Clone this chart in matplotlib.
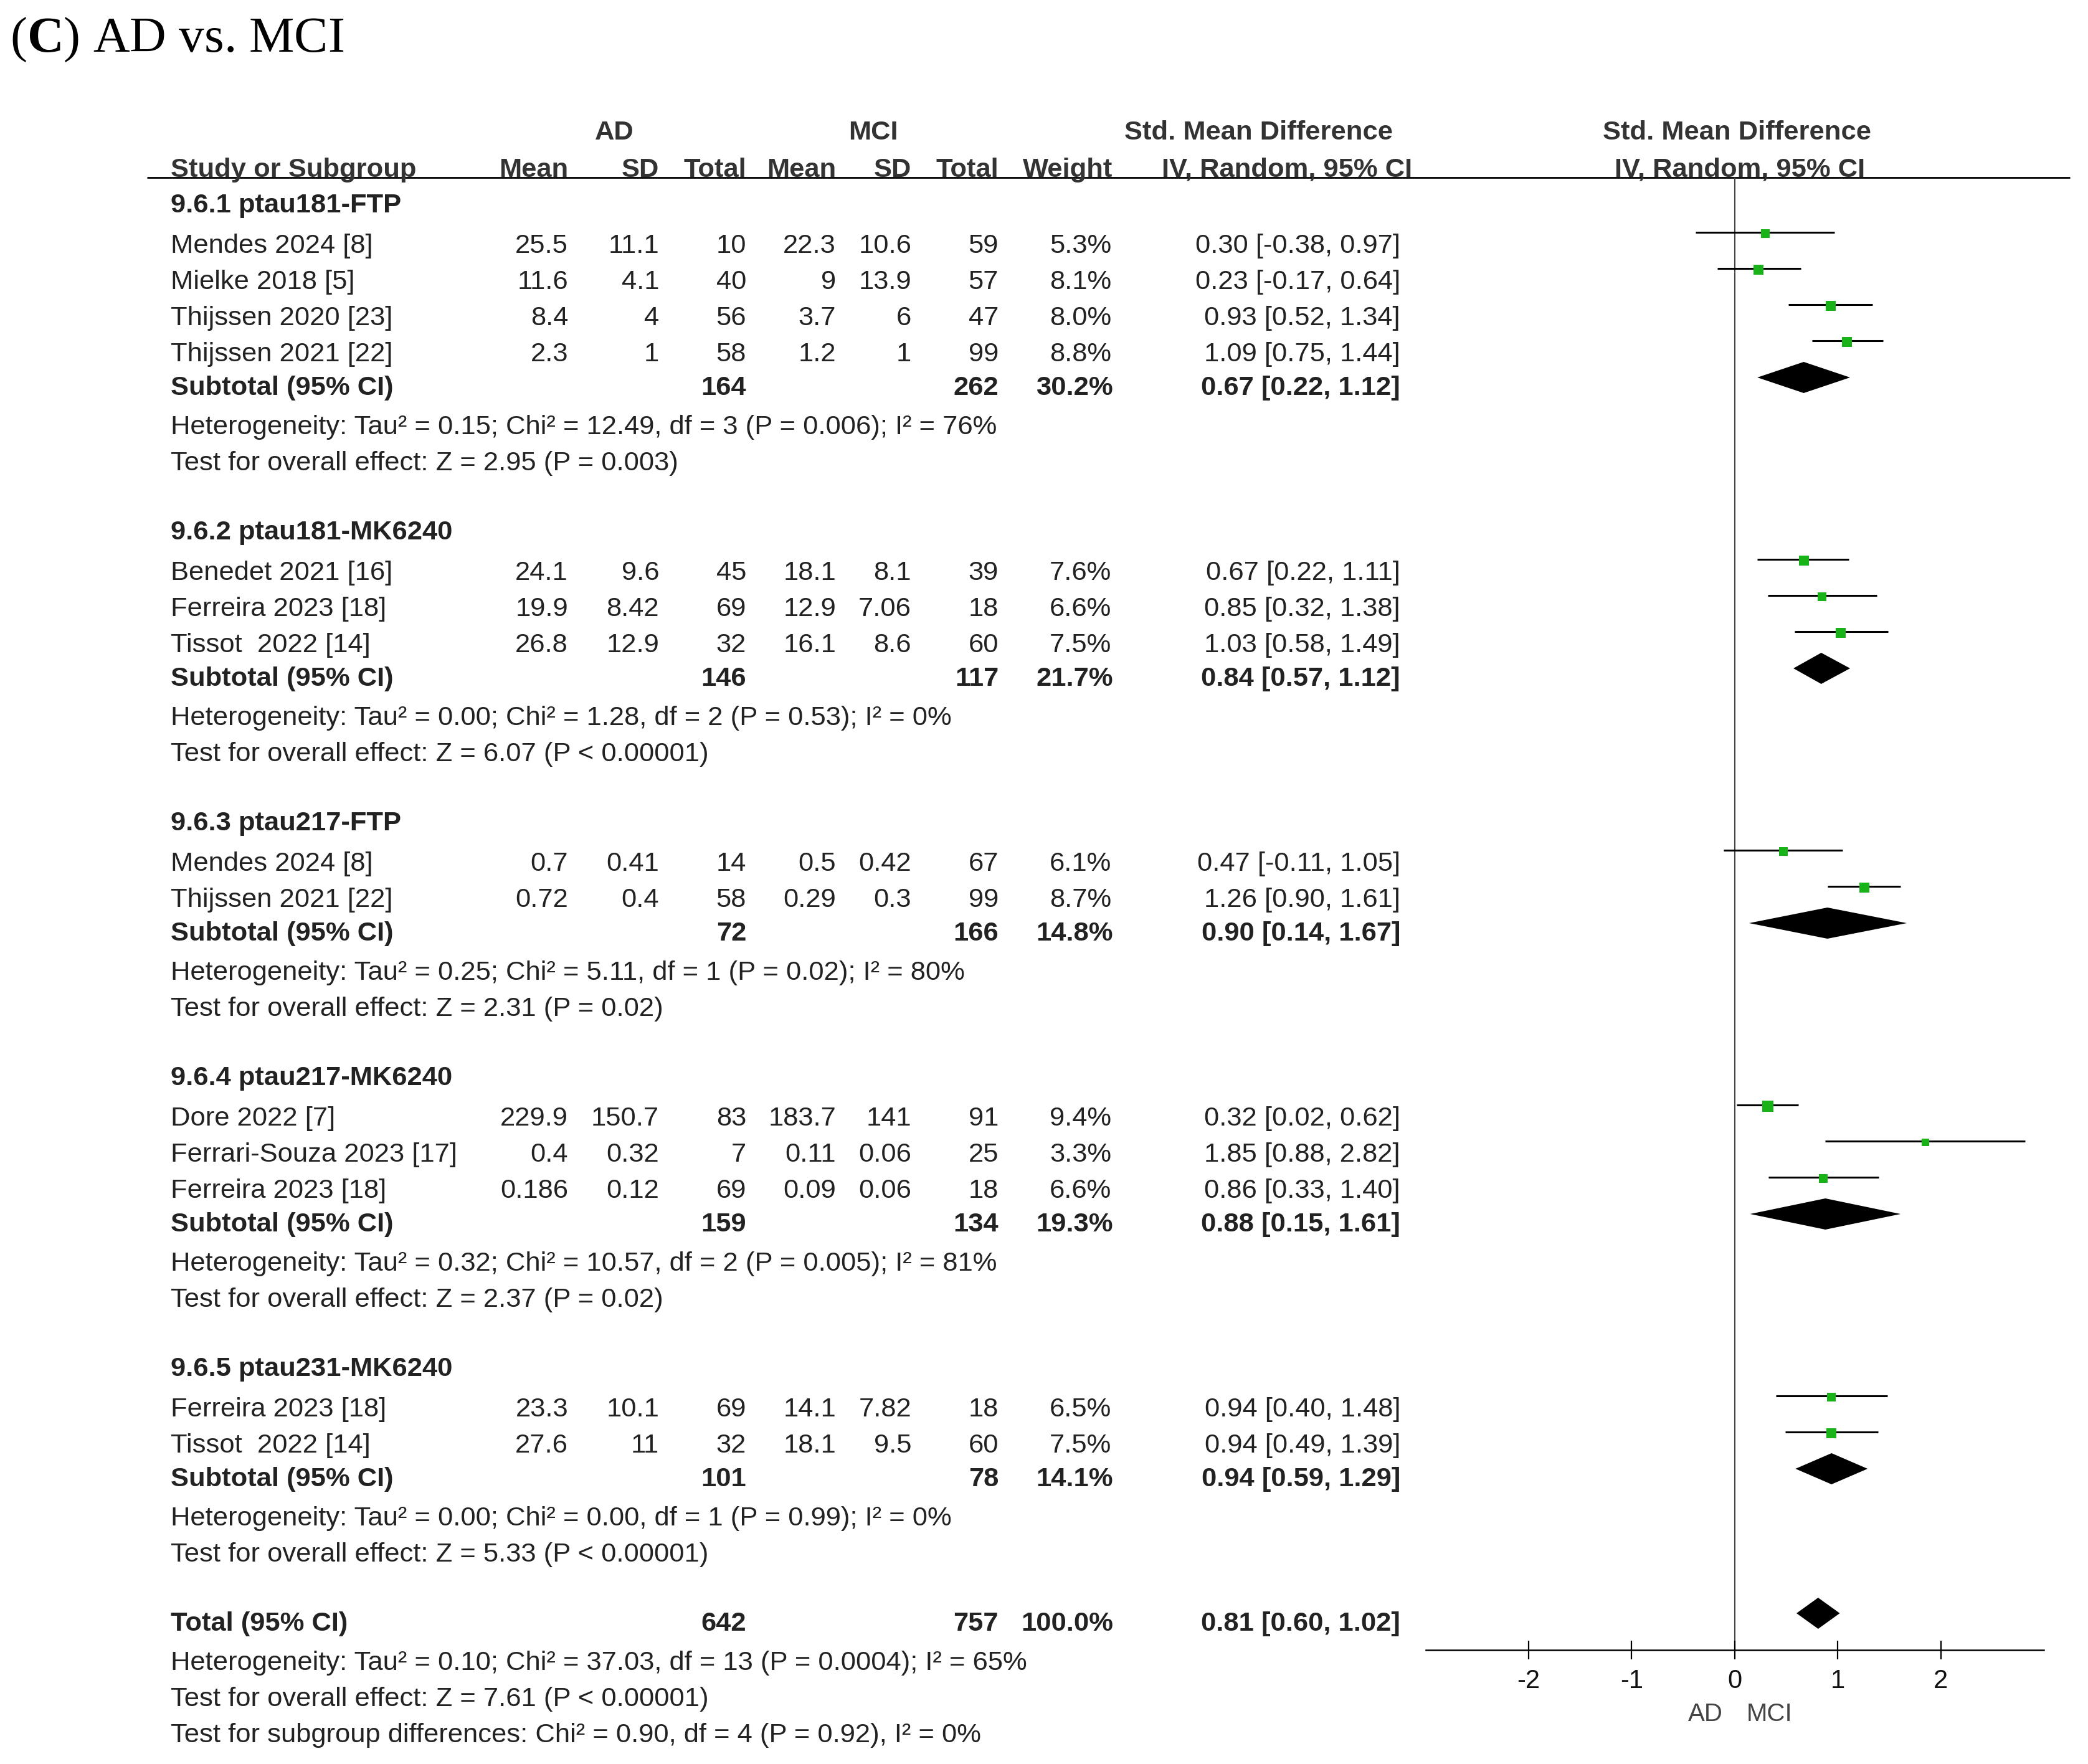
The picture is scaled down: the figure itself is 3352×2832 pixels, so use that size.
import numpy as np
import matplotlib
matplotlib.use("Agg")
import matplotlib.pyplot as plt

plt.rcParams['font.family'] = ['Liberation Sans', 'DejaVu Sans']
plt.rcParams['axes.unicode_minus'] = False
plt.rcParams['mathtext.fontset'] = 'custom'
plt.rcParams['mathtext.rm'] = 'Liberation Serif'
plt.rcParams['mathtext.bf'] = 'Liberation Serif:bold'

# ---- data ----
group_names = ["9.6.1 ptau181-FTP", "9.6.2 ptau181-MK6240", "9.6.3 ptau217-FTP",
               "9.6.4 ptau217-MK6240", "9.6.5 ptau231-MK6240"]
study = ["Mendes 2024 [8]", "Mielke 2018 [5]", "Thijssen 2020 [23]", "Thijssen 2021 [22]",
         "Benedet 2021 [16]", "Ferreira 2023 [18]", "Tissot  2022 [14]",
         "Mendes 2024 [8]", "Thijssen 2021 [22]",
         "Dore 2022 [7]", "Ferrari-Souza 2023 [17]", "Ferreira 2023 [18]",
         "Ferreira 2023 [18]", "Tissot  2022 [14]"]
group_of = [0, 0, 0, 0, 1, 1, 1, 2, 2, 3, 3, 3, 4, 4]
ad_mean = [25.5, 11.6, 8.4, 2.3, 24.1, 19.9, 26.8, 0.7, 0.72, 229.9, 0.4, 0.186, 23.3, 27.6]
ad_sd = [11.1, 4.1, 4, 1, 9.6, 8.42, 12.9, 0.41, 0.4, 150.7, 0.32, 0.12, 10.1, 11]
ad_n = [10, 40, 56, 58, 45, 69, 32, 14, 58, 83, 7, 69, 69, 32]
mci_mean = [22.3, 9, 3.7, 1.2, 18.1, 12.9, 16.1, 0.5, 0.29, 183.7, 0.11, 0.09, 14.1, 18.1]
mci_sd = [10.6, 13.9, 6, 1, 8.1, 7.06, 8.6, 0.42, 0.3, 141, 0.06, 0.06, 7.82, 9.5]
mci_n = [59, 57, 47, 99, 39, 18, 60, 67, 99, 91, 25, 18, 18, 60]
weight = [5.3, 8.1, 8.0, 8.8, 7.6, 6.6, 7.5, 6.1, 8.7, 9.4, 3.3, 6.6, 6.5, 7.5]
smd = [0.30, 0.23, 0.93, 1.09, 0.67, 0.85, 1.03, 0.47, 1.26, 0.32, 1.85, 0.86, 0.94, 0.94]
ci_lo = [-0.38, -0.17, 0.52, 0.75, 0.22, 0.32, 0.58, -0.11, 0.90, 0.02, 0.88, 0.33, 0.40, 0.49]
ci_hi = [0.97, 0.64, 1.34, 1.44, 1.11, 1.38, 1.49, 1.05, 1.61, 0.62, 2.82, 1.40, 1.48, 1.39]

sub_ad_n = [164, 146, 72, 159, 101]
sub_mci_n = [262, 117, 166, 134, 78]
sub_weight = [30.2, 21.7, 14.8, 19.3, 14.1]
sub_smd = [0.67, 0.84, 0.90, 0.88, 0.94]
sub_lo = [0.22, 0.57, 0.14, 0.15, 0.59]
sub_hi = [1.12, 1.12, 1.67, 1.61, 1.29]
sub_het = ["Heterogeneity: Tau² = 0.15; Chi² = 12.49, df = 3 (P = 0.006); I² = 76%",
           "Heterogeneity: Tau² = 0.00; Chi² = 1.28, df = 2 (P = 0.53); I² = 0%",
           "Heterogeneity: Tau² = 0.25; Chi² = 5.11, df = 1 (P = 0.02); I² = 80%",
           "Heterogeneity: Tau² = 0.32; Chi² = 10.57, df = 2 (P = 0.005); I² = 81%",
           "Heterogeneity: Tau² = 0.00; Chi² = 0.00, df = 1 (P = 0.99); I² = 0%"]
sub_test = ["Test for overall effect: Z = 2.95 (P = 0.003)",
            "Test for overall effect: Z = 6.07 (P < 0.00001)",
            "Test for overall effect: Z = 2.31 (P = 0.02)",
            "Test for overall effect: Z = 2.37 (P = 0.02)",
            "Test for overall effect: Z = 5.33 (P < 0.00001)"]

total_ad_n, total_mci_n, total_weight = 642, 757, 100.0
total_smd, total_lo, total_hi = 0.81, 0.60, 1.02
total_notes = ["Heterogeneity: Tau² = 0.10; Chi² = 37.03, df = 13 (P = 0.0004); I² = 65%",
               "Test for overall effect: Z = 7.61 (P < 0.00001)",
               "Test for subgroup differences: Chi² = 0.90, df = 4 (P = 0.92), I² = 0%"]
xticks = [-2, -1, 0, 1, 2]

# ---- layout (figure pixels, origin top-left) ----
W, H = 3352, 2832
FS = 31.3
TXT = '#222222'
HDR = '#333333'
GREEN = '#19b219'
x_name = 274
col_right = [912, 1058, 1198, 1342, 1463, 1603, 1784, 2248]
fx0, fx1, fy0, fy1 = 2288.6, 3281, 285, 2649
cap = 0.358 * FS * 100 / 72   # half cap height in px, for baseline placement

fig = plt.figure(figsize=(W / 100, H / 100), dpi=100)
bg = fig.add_axes([0, 0, 1, 1])
bg.set_xlim(0, W)
bg.set_ylim(H, 0)
bg.axis('off')

fa = fig.add_axes([fx0 / W, 1 - fy1 / H, (fx1 - fx0) / W, (fy1 - fy0) / H])
fa.set_facecolor('none')
fa.set_xlim(-3, 3)
fa.set_ylim(fy1, fy0)


def put(x, y, s, ha='left', bold=False, color=TXT, size=FS):
    bg.text(x, y + cap, s, ha=ha, va='baseline', fontsize=size,
            fontweight='bold' if bold else 'normal', color=color)


def diamond(y, est, lo, hi):
    fa.fill([lo, est, hi, est], [y, y - 25, y, y + 25], color='black', lw=0)


# title
bg.text(16, 83, r"($\mathbf{C}$) AD vs. MCI", fontsize=58.5, color='black', va='baseline',
        family='Liberation Serif')

# column headers
put(986, 208, "AD", ha='center', bold=True, color=HDR)
put(1402, 208, "MCI", ha='center', bold=True, color=HDR)
put(2020, 208, "Std. Mean Difference", ha='center', bold=True, color=HDR)
put(2788, 208, "Std. Mean Difference", ha='center', bold=True, color=HDR)
put(x_name, 268, "Study or Subgroup", bold=True, color=HDR)
for xr, lab in zip(col_right[:7], ["Mean", "SD", "Total", "Mean", "SD", "Total", "Weight"]):
    put(xr + (2 if lab == "Weight" else 0), 268, lab, ha='right', bold=True, color=HDR)
put(2066, 268, "IV, Random, 95% CI", ha='center', bold=True, color=HDR)
put(2793, 268, "IV, Random, 95% CI", ha='center', bold=True, color=HDR)
bg.plot([236, 3323], [285, 285], color='black', lw=2.0, solid_capstyle='butt')

# rows
y = 325
for g, gname in enumerate(group_names):
    put(x_name, y, gname, bold=True)
    y += 65
    for i in [k for k, gg in enumerate(group_of) if gg == g]:
        put(x_name, y, study[i])
        vals = ['%g' % ad_mean[i], '%g' % ad_sd[i], '%d' % ad_n[i],
                '%g' % mci_mean[i], '%g' % mci_sd[i], '%d' % mci_n[i],
                '%.1f%%' % weight[i],
                '%.2f [%.2f, %.2f]' % (smd[i], ci_lo[i], ci_hi[i])]
        for xr, v in zip(col_right, vals):
            put(xr, y, v, ha='right')
        ym = y - 17
        fa.plot([ci_lo[i], ci_hi[i]], [ym, ym], color='black', lw=2.2, solid_capstyle='butt')
        fa.plot(smd[i], ym + 2, marker='s', ms=(9 + 0.9 * weight[i]) * 0.72,
                color=GREEN, mec=GREEN, mew=0)
        y += 58
    y -= 4
    put(x_name, y, "Subtotal (95% CI)", bold=True)
    put(col_right[2], y, '%d' % sub_ad_n[g], ha='right', bold=True)
    put(col_right[5], y, '%d' % sub_mci_n[g], ha='right', bold=True)
    put(col_right[6] + 3, y, '%.1f%%' % sub_weight[g], ha='right', bold=True)
    put(col_right[7], y, '%.2f [%.2f, %.2f]' % (sub_smd[g], sub_lo[g], sub_hi[g]),
        ha='right', bold=True)
    diamond(y - 12, sub_smd[g], sub_lo[g], sub_hi[g])
    put(x_name, y + 63, sub_het[g])
    put(x_name, y + 121, sub_test[g])
    y += 121 + 111

# overall
put(x_name, y, "Total (95% CI)", bold=True)
put(col_right[2], y, '%d' % total_ad_n, ha='right', bold=True)
put(col_right[5], y, '%d' % total_mci_n, ha='right', bold=True)
put(col_right[6] + 3, y, '%.1f%%' % total_weight, ha='right', bold=True)
put(col_right[7], y, '%.2f [%.2f, %.2f]' % (total_smd, total_lo, total_hi),
    ha='right', bold=True)
diamond(y - 12, total_smd, total_lo, total_hi)
y += 63
for note in total_notes:
    put(x_name, y, note)
    y += 58

# forest axis
fa.axvline(0, color='#444444', lw=1.5, zorder=0)
for s in ['top', 'left', 'right']:
    fa.spines[s].set_visible(False)
fa.spines['bottom'].set_linewidth(1.8)
fa.set_yticks([])
fa.set_xticks(xticks)
fa.set_xticklabels([str(t) for t in xticks])
fa.tick_params(axis='x', direction='inout', length=21.6, width=1.6, pad=11,
               labelsize=30, labelcolor='#111111')
x_zero = fx0 + (0 + 3) / 6 * (fx1 - fx0)
put(x_zero - 19, 2747, "AD", ha='right', color='#444444', size=29)
put(x_zero + 19, 2747, "MCI", ha='left', color='#444444', size=29)

fig.savefig('out.png', dpi=100)
